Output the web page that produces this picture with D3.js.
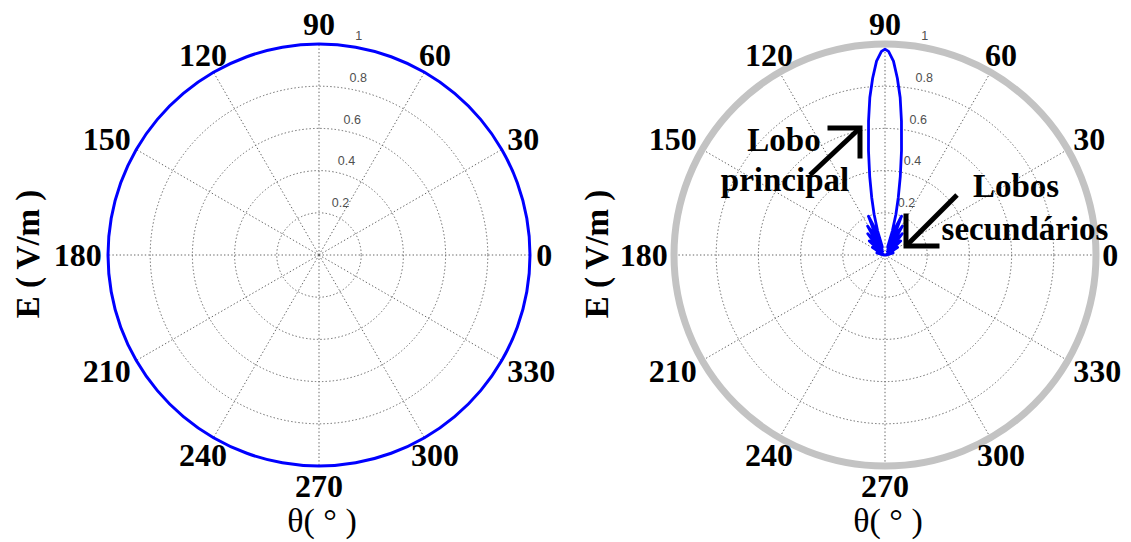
<!DOCTYPE html>
<html><head><meta charset="utf-8">
<script src="https://cdn.jsdelivr.net/npm/d3@7"></script>
<style>
html,body{margin:0;padding:0;background:#fff;}
svg{display:block;}
</style></head>
<body>
<svg id="c" width="1131" height="542"></svg>
<script>
// ---------- data ----------
const angleTicks = [0, 30, 60, 90, 120, 150, 180, 210, 240, 270, 300, 330];
const radialTicks = [0.2, 0.4, 0.6, 0.8, 1];
const radialTickLabels = ["0.2", "0.4", "0.6", "0.8", "1"];
const gridRings = [0.2, 0.4, 0.6, 0.8];

// left: single isotropic element, |E| = 1 at every angle
const leftTheta = [0, 10, 20, 30, 40, 50, 60, 70, 80, 90, 100, 110, 120, 130, 140, 150, 160, 170, 180,
                   190, 200, 210, 220, 230, 240, 250, 260, 270, 280, 290, 300, 310, 320, 330, 340, 350];
const leftR     = [1, 1, 1, 1, 1, 1, 1, 1, 1, 1, 1, 1, 1, 1, 1, 1, 1, 1, 1,
                   1, 1, 1, 1, 1, 1, 1, 1, 1, 1, 1, 1, 1, 1, 1, 1, 1];

// right: array pattern (degrees, normalised |E|)
const rightTheta = [0, 5, 10, 15, 20, 24, 28, 31, 34, 37, 40, 42, 44, 47, 49, 51, 53, 55.5, 57, 59, 61, 63.5, 65, 67, 69, 71.5,
                    73, 75, 77, 79, 81, 83, 84.5, 86, 87.5, 89, 90,
                    91, 92.5, 94, 95.5, 97, 99, 101, 103, 105, 107,
                    108.5, 111, 113, 115, 116.5, 119, 121, 123, 124.5, 127, 129, 131, 133, 136, 138, 140, 143, 146, 149, 152, 156, 160, 165, 170, 175, 180];
const rightR     = [0.00, 0.01, 0.02, 0.04, 0.04, 0.01, 0.03, 0.07, 0.06, 0.02, 0.05, 0.10, 0.08, 0.02, 0.07, 0.13, 0.10, 0.02, 0.09, 0.16, 0.12, 0.03, 0.12, 0.20, 0.14, 0.04,
                    0.12, 0.20, 0.28, 0.38, 0.50, 0.64, 0.75, 0.84, 0.92, 0.965, 0.975,
                    0.965, 0.92, 0.84, 0.75, 0.64, 0.50, 0.38, 0.28, 0.20, 0.12,
                    0.04, 0.14, 0.20, 0.12, 0.03, 0.12, 0.16, 0.09, 0.02, 0.10, 0.13, 0.07, 0.02, 0.08, 0.10, 0.05, 0.02, 0.06, 0.07, 0.03, 0.01, 0.04, 0.04, 0.02, 0.01, 0.00];

const yLabel = "E ( V/m )";
const xLabel = "θ( ° )";

// ---------- layout ----------
const R = 211;
const panels = [
  {cx: 319, cy: 255, theta: leftTheta, r: leftR, closed: true, lineColor: "#0000ff", lineWidth: 3, outer: null, yLabX: 28},
  {cx: 885, cy: 255, theta: rightTheta, r: rightR, closed: false, lineColor: "#0000ff", lineWidth: 2.8, outer: "#c3c3c3", yLabX: 597}
];

const svg = d3.select("#c");
const rScale = d3.scaleLinear().domain([0, 1]).range([0, R]);
const aScale = d3.scaleLinear().domain([0, 360]).range([0, 2 * Math.PI]);
const serif = "'Liberation Serif','Times New Roman',serif";

panels.forEach(p => {
  const g = svg.append("g").attr("transform", `translate(${p.cx},${p.cy})`);
  const px = (deg, v) => rScale(v) * Math.cos(aScale(deg));
  const py = (deg, v) => -rScale(v) * Math.sin(aScale(deg));

  // rings
  g.selectAll("circle.ring").data(gridRings).join("circle")
    .attr("r", d => rScale(d)).attr("fill", "none")
    .attr("stroke", "#666").attr("stroke-width", 1).attr("stroke-dasharray", "1.4,2.2");
  // spokes
  g.selectAll("line.spoke").data(angleTicks).join("line")
    .attr("x1", 0).attr("y1", 0)
    .attr("x2", d => px(d, 1)).attr("y2", d => py(d, 1))
    .attr("stroke", "#666").attr("stroke-width", 1).attr("stroke-dasharray", "1.4,2.2");

  // outer ring
  if (p.outer) {
    g.append("circle").attr("r", rScale(1)).attr("fill", "none")
      .attr("stroke", p.outer).attr("stroke-width", 7);
  }

  // radial tick labels
  const a82 = aScale(82);
  g.selectAll("text.rt").data(radialTicks).join("text")
    .attr("x", d => rScale(d) * Math.cos(a82) + 7)
    .attr("y", d => -rScale(d) * Math.sin(a82) - 10)
    .attr("dominant-baseline", "central")
    .attr("font-family", "'Liberation Sans',Arial,sans-serif")
    .attr("font-size", 12.5).attr("fill", "#505050")
    .text((d, i) => radialTickLabels[i]);

  // data line
  const pts = p.theta.map((t, i) => [aScale(90 - t), rScale(p.r[i])]);
  const line = d3.lineRadial().angle(d => d[0]).radius(d => d[1])
    .curve(p.closed ? d3.curveCardinalClosed : d3.curveLinear);
  g.append("path").attr("d", line(pts)).attr("fill", "none")
    .attr("stroke", p.lineColor).attr("stroke-width", p.lineWidth)
    .attr("stroke-linejoin", "round");

  // angle labels
  g.selectAll("text.at").data(angleTicks).join("text")
    .each(function(d) {
      const c = Math.cos(aScale(d)), s = Math.sin(aScale(d));
      let x, anchor;
      if (Math.abs(c) > 0.6) { x = rScale(1.03) * c; anchor = c > 0 ? "start" : "end"; }
      else { x = rScale(1.1) * c; anchor = "middle"; }
      d3.select(this).attr("x", x).attr("y", -rScale(1.095) * s)
        .attr("text-anchor", anchor);
    })
    .attr("dominant-baseline", "central")
    .attr("font-family", serif).attr("font-weight", "bold").attr("font-size", 32)
    .attr("fill", "#000").text(d => d);

  // axis labels
  svg.append("text")
    .attr("transform", `translate(${p.yLabX},${p.cy - 1}) rotate(-90)`)
    .attr("text-anchor", "middle").attr("dominant-baseline", "central")
    .attr("font-family", serif).attr("font-weight", "bold").attr("font-size", 33)
    .attr("xml:space", "preserve")
    .text(yLabel);
  svg.append("text")
    .attr("x", p.cx + 3).attr("y", 532)
    .attr("text-anchor", "middle")
    .attr("font-family", serif).attr("font-size", 34)
    .text(xLabel);
});

// ---------- annotations (right panel) ----------
const rp = panels[1];
const ann = svg.append("g").attr("transform", `translate(${rp.cx},${rp.cy})`)
  .attr("font-family", serif).attr("font-weight", "bold").attr("font-size", 33).attr("fill", "#000");
ann.append("text").attr("x", -101).attr("y", -104).attr("text-anchor", "middle").text("Lobo");
ann.append("text").attr("x", -100).attr("y", -64).attr("text-anchor", "middle").text("principal");
ann.append("text").attr("x", 131).attr("y", -58).attr("text-anchor", "middle").text("Lobos");
ann.append("text").attr("x", 140).attr("y", -15).attr("text-anchor", "middle").text("secundários");

function arrow(x1, y1, x2, y2, ax, ay) {
  ann.append("line").attr("x1", x1).attr("y1", y1).attr("x2", x2).attr("y2", y2)
    .attr("stroke", "#000").attr("stroke-width", 5);
  ann.append("path").attr("d", `M${x2 + ax},${y2} L${x2},${y2} L${x2},${y2 + ay}`)
    .attr("fill", "none").attr("stroke", "#000").attr("stroke-width", 5)
    .attr("stroke-linecap", "square").attr("stroke-linejoin", "miter");
}
arrow(-75, -80, -25, -127, -30, 28);
arrow(72, -60, 21, -9, 31, -30);
</script>
</body></html>
